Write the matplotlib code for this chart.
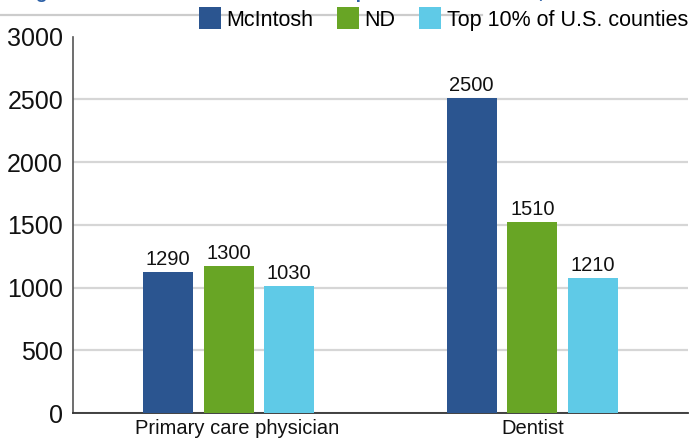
import numpy as np
import matplotlib
matplotlib.use('Agg')
import matplotlib.pyplot as plt
from matplotlib.lines import Line2D
from matplotlib.transforms import ScaledTranslation

plt.rcParams['font.family'] = ['Liberation Sans', 'DejaVu Sans']

# Data
categories = ['Primary care physician', 'Dentist']
series = ['McIntosh', 'ND', 'Top 10% of U.S. counties']
mcintosh = [1127, 2513]
nd = [1176, 1523]
top10 = [1016, 1078]
# value labels as printed above the bars
mcintosh_labels = ['1290', '2500']
nd_labels = ['1300', '1510']
top10_labels = ['1030', '1210']
yticks = [0, 500, 1000, 1500, 2000, 2500, 3000]

colors = ['#2B5590', '#68A525', '#5FCAE7']

fig = plt.figure(figsize=(6.9, 4.4), dpi=100)
ax = fig.add_axes([0.1054, 0.0607, 0.8916, 0.8563])

x = np.arange(len(categories))
width = 0.1645
offsets = [-0.2, 0.0, 0.2]
values = [mcintosh, nd, top10]
labels = [mcintosh_labels, nd_labels, top10_labels]

containers = []
for off, vals, labs, col, name in zip(offsets, values, labels, colors, series):
    bars = ax.bar(x + off, vals, width, color=col, label=name, zorder=3)
    ax.bar_label(bars, labels=labs, padding=2, fontsize=14.5, color='#111111')
    containers.append(bars)

ax.set_xlim(-0.5125, 1.5115)
ax.set_ylim(0, 3000)
ax.set_yticks(yticks)
ax.set_xticks(x)
ax.set_xticklabels(categories, fontsize=14.5)
ax.tick_params(axis='y', length=0, pad=7, labelsize=18, labelcolor='#111111')
ax.tick_params(axis='x', length=0, pad=4, labelcolor='#111111')

# shift the first category label a little to the right like the original
lbl0 = ax.get_xticklabels()[0]
lbl0.set_transform(lbl0.get_transform() + ScaledTranslation(0.09, 0, fig.dpi_scale_trans))

ax.yaxis.grid(True, color='#d6d6d6', linewidth=1.6)
ax.set_axisbelow(True)
ax.get_ygridlines()[-1].set_visible(False)

for s in ['top', 'right']:
    ax.spines[s].set_visible(False)
ax.spines['left'].set_color('#555555')
ax.spines['left'].set_linewidth(1.2)
ax.spines['bottom'].set_color('#333333')
ax.spines['bottom'].set_linewidth(1.3)

# title sits mostly above the figure edge in the original, only descenders show
fig.text(0.0, 1.0 + 2.0 / 440,
         'Range of residents to each health care provider in the state, 2020',
         fontsize=13.8, fontweight='bold', color='#2E62A8', va='baseline', ha='left')
fig.add_artist(Line2D([0, 482 / 690], [1 - 15 / 440] * 2, color='#cccccc',
                      linewidth=1.6, zorder=1))

fig.legend(handles=containers, labels=series, loc='center right',
           bbox_to_anchor=(688 / 690, 1 - 19 / 440), ncol=3, frameon=False,
           fontsize=15.5, handlelength=1.02, handleheight=1.175, handletextpad=0.25,
           columnspacing=1.1, borderpad=0, borderaxespad=0)

fig.savefig('out.png', dpi=100)
